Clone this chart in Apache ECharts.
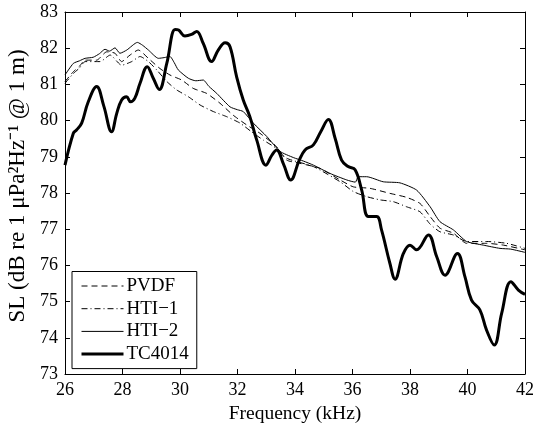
<!DOCTYPE html>
<html>
<head>
<meta charset="utf-8">
<script src="https://cdn.jsdelivr.net/npm/echarts@6/dist/echarts.min.js"></script>
<style>
	html, body { margin: 0; padding: 0; background: #fff; }
	#chart { width: 534px; height: 428px; }
</style>
</head>
<body>
<div id="chart"></div>
<script>
// tick labels
var xTicks = [26, 28, 30, 32, 34, 36, 38, 40, 42];
var yTicks = [73, 74, 75, 76, 77, 78, 79, 80, 81, 82, 83];

// PVDF
var pvdfX = [26, 26.29, 26.5, 26.7, 27.1, 27.45, 27.74, 27.97, 28.26, 28.55, 28.9, 29.3, 29.65, 30.06, 30.46, 30.93, 31.39, 31.85, 32.32, 32.78, 33.36, 33.71, 34.17, 34.87, 35.57, 36.03, 36.6, 37.3, 37.88, 38.35, 38.7, 39.04, 39.51, 39.97, 40.67, 41.25, 42];
var pvdfY = [81.08, 81.35, 81.5, 81.67, 81.67, 81.9, 81.86, 81.63, 81.81, 81.95, 81.72, 81.44, 81.26, 81.12, 80.89, 80.75, 80.48, 80.15, 79.88, 79.65, 79.28, 78.91, 78.82, 78.68, 78.36, 78.17, 78.13, 77.99, 77.88, 77.71, 77.35, 77.03, 76.89, 76.61, 76.61, 76.56, 76.43];

// HTI-1
var hti1X = [26, 26.29, 26.5, 26.7, 27.22, 27.57, 27.97, 28.32, 28.61, 28.9, 29.19, 29.54, 29.88, 30.29, 30.7, 31.16, 31.62, 32.09, 32.49, 32.9, 33.36, 33.71, 34.64, 35.57, 36.03, 36.49, 36.96, 37.42, 37.88, 38.35, 38.7, 39.04, 39.51, 39.97, 40.67, 41.36, 42];
var hti1Y = [81.03, 81.3, 81.45, 81.63, 81.63, 81.81, 81.53, 81.63, 81.77, 81.63, 81.4, 81.08, 80.85, 80.66, 80.43, 80.25, 80.11, 79.93, 79.69, 79.46, 79.23, 78.96, 78.73, 78.31, 78.04, 77.9, 77.81, 77.76, 77.62, 77.48, 77.14, 76.93, 76.84, 76.66, 76.66, 76.61, 76.47];

// HTI-2
var hti2X = [26, 26.29, 26.5, 26.7, 26.98, 27.2, 27.39, 27.55, 27.74, 27.91, 28.15, 28.52, 28.7, 28.9, 29.25, 29.45, 29.65, 29.8, 29.94, 30.29, 30.55, 30.81, 31.0, 31.28, 31.74, 32.0, 32.2, 32.55, 33.02, 33.48, 33.94, 34.3, 34.64, 35.22, 35.8, 36.1, 36.2, 36.49, 37.07, 37.65, 38.23, 38.7, 39.04, 39.51, 39.97, 40.55, 41.13, 41.5, 42];
var hti2Y = [81.26, 81.58, 81.65, 81.72, 81.75, 81.85, 81.97, 81.92, 82.01, 81.86, 81.95, 82.16, 82.08, 81.95, 81.72, 81.74, 81.77, 81.6, 81.4, 81.17, 81.1, 81.12, 80.95, 80.75, 80.38, 80.3, 80.25, 79.93, 79.56, 79.15, 78.98, 78.88, 78.77, 78.54, 78.36, 78.3, 78.45, 78.45, 78.31, 78.28, 78.08, 77.62, 77.21, 76.98, 76.66, 76.56, 76.47, 76.45, 76.36];

// TC4014
var tcX = [26, 26.29, 26.4, 26.58, 26.8, 27.1, 27.35, 27.62, 27.8, 27.97, 28.14, 28.28, 28.43, 28.61, 28.86, 29.07, 29.28, 29.54, 29.83, 29.95, 30.17, 30.4, 30.58, 30.81, 31.1, 31.33, 31.57, 31.74, 31.97, 32.2, 32.43, 32.67, 32.99, 33.2, 33.36, 33.6, 33.85, 34.15, 34.35, 34.64, 34.9, 35.16, 35.4, 35.62, 35.85, 36.09, 36.32, 36.55, 36.84, 37.01, 37.3, 37.48, 37.77, 38.0, 38.23, 38.64, 38.93, 39.22, 39.65, 39.91, 40.14, 40.43, 40.66, 40.93, 41.19, 41.51, 41.77, 42];
var tcY = [78.77, 79.65, 79.74, 79.93, 80.5, 80.94, 80.4, 79.69, 80.2, 80.57, 80.66, 80.52, 80.62, 81.03, 81.49, 81.17, 80.86, 81.58, 82.52, 82.5, 82.34, 82.38, 82.46, 82.13, 81.63, 81.95, 82.15, 82.04, 81.21, 80.57, 80.11, 79.46, 78.77, 79.05, 79.19, 78.8, 78.36, 78.91, 79.19, 79.33, 79.7, 80.03, 79.5, 78.91, 78.73, 78.64, 78.08, 77.35, 77.35, 76.98, 76.06, 75.62, 76.33, 76.56, 76.43, 76.84, 76.24, 75.73, 76.33, 75.69, 75.04, 74.77, 74.22, 73.80, 74.68, 75.55, 75.32, 75.20];

function pairs(xs, ys) {
	var out = [];
	for (var i = 0; i < xs.length; i++) out.push([xs[i], ys[i]]);
	return out;
}

var FONT = 'Liberation Serif';

var chart = echarts.init(document.getElementById('chart'));

var xBase = {
	type : 'value',
	min : xTicks[0],
	max : xTicks[xTicks.length - 1],
	interval : 2,
	splitLine : { show : false },
	axisLine : { lineStyle : { color : '#000', width : 1 } },
	axisTick : { inside : true, length : 5, lineStyle : { color : '#000' } }
};
var yBase = {
	type : 'value',
	min : yTicks[0],
	max : yTicks[yTicks.length - 1],
	interval : 1,
	splitLine : { show : false },
	axisLine : { lineStyle : { color : '#000', width : 1 } },
	axisTick : { inside : true, length : 5, lineStyle : { color : '#000' } }
};

function lineSeries(name, xs, ys, width, dash, smooth) {
	return {
		name : name,
		type : 'line',
		symbol : 'none',
		smooth : smooth,
		color : '#000',
		itemStyle : { color : 'transparent', borderColor : 'transparent', borderWidth : 0 },
		lineStyle : { color : '#000', width : width, type : dash },
		data : pairs(xs, ys)
	};
}

function legendItem(name, width, dash) {
	return { name : name, lineStyle : { color : '#000', width : width, type : dash } };
}

chart.setOption({
	animation : false,
	backgroundColor : '#fff',
	color : ['#000'],
	grid : { left : 65, right : 9, top : 12, bottom : 54, outerBoundsMode : 'none' },
	legend : {
		orient : 'vertical',
		left : 72,
		top : 271.5,
		padding : [5, 8, 5, 8],
		itemWidth : 42,
		itemHeight : 13,
		itemGap : 3.7,
		borderColor : '#000',
		borderWidth : 1,
		backgroundColor : '#fff',
		itemStyle : { color : 'transparent', borderColor : 'transparent', borderWidth : 0, opacity : 0 },
		textStyle : { fontFamily : FONT, fontSize : 19, color : '#000', padding : [0, 0, 0, -2] },
		data : [
			legendItem('PVDF', 1, [6, 4]),
			legendItem('HTI\u22121', 1, [6, 3, 1, 3]),
			legendItem('HTI\u22122', 1, 'solid'),
			legendItem('TC4014', 3, 'solid')
		]
	},
	xAxis : [
		Object.assign({}, xBase, {
			position : 'bottom',
			name : 'Frequency (kHz)',
			nameLocation : 'middle',
			nameGap : 27,
			nameTextStyle : { fontFamily : FONT, fontSize : 19.5, color : '#000' },
			axisLabel : { fontFamily : FONT, fontSize : 18, color : '#000', margin : 7 }
		}),
		Object.assign({}, xBase, { position : 'top', axisLabel : { show : false } })
	],
	yAxis : [
		Object.assign({}, yBase, {
			position : 'left',
			name : 'SL (dB re 1 \u03bcPa\u00b2Hz\u207b\u00b9 @ 1 m)',
			nameLocation : 'middle',
			nameGap : 32,
			nameTextStyle : { fontFamily : FONT, fontSize : 23, color : '#000', padding : [0, 0, 0, 14] },
			axisLabel : { fontFamily : FONT, fontSize : 18, color : '#000', margin : 7 }
		}),
		Object.assign({}, yBase, { position : 'right', axisLabel : { show : false } })
	],
	series : [
		lineSeries('PVDF', pvdfX, pvdfY, 1, [6, 4], 0.2),
		lineSeries('HTI\u22121', hti1X, hti1Y, 1, [6, 3, 1, 3], 0.2),
		lineSeries('HTI\u22122', hti2X, hti2Y, 1, 'solid', 0.2),
		lineSeries('TC4014', tcX, tcY, 3, 'solid', 0.4)
	]
});
</script>
</body>
</html>
